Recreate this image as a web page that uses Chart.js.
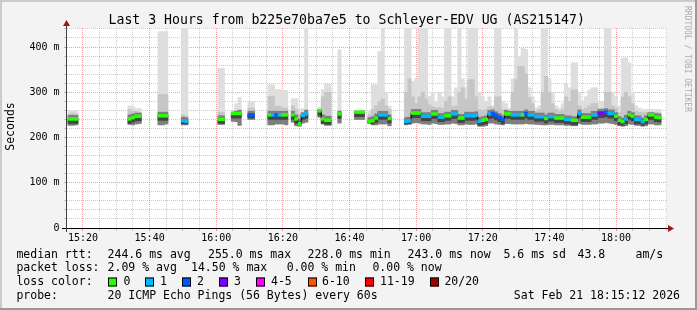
<!DOCTYPE html>
<html>
<head>
<meta charset="utf-8">
<title>SmokePing</title>
<script src="https://cdn.jsdelivr.net/npm/chart.js@4/dist/chart.umd.min.js"></script>
<style>
html, body { margin:0; padding:0; background:#f3f3f3; overflow:hidden; }
canvas { display:block; }
</style>
</head>
<body>
<canvas id="chart" width="697" height="310"></canvas>
<script>
// ---------------- data (minutes since 15:00) ----------------
const minutes = [
  16,17,18, 34,35,36,37, 43,44,45, 50,51, 61,62, 65,66,67, 70,71,
  76,77,78,79,80,81, 83,84,85,86,87, 91,92,93,94, 97, 102,103,104,
  106,107,108,109,110,111,112,
  117,118,119,120,121,122,123,124,125,126,
  127,128,129,130,131,132,133,134,135,136,
  137,138,139,140,141,142,143,144,145,146,
  147,148,149,150,151,152,153,154,155,156,
  157,158,159,160,161,162,163,164,165,166,
  167,168,169,170,171,172,173,174,175,176,
  177,178,179,180,181,182,183,184,185,186,
  187,188,189,190,191,192,193
];
// median rtt (ms)
const median = [
  241,241,241, 241,244,247,247, 248,248,248, 237,236, 240,240, 253,253,253, 250,250,
  250,250,250,250,250,250, 250,241,230,249,252, 259,241,238,238, 252, 256,256,256,
  236,237,243,250,250,250,242,
  236,237,254,254,254,247,247,247,252,252,
  245,245,248,248,252,252,243,243,248,248,
  248,249,236,238,240,252,253,249,245,240,
  252,252,250,250,250,250,253,250,250,246,
  246,246,242,246,246,243,243,243,240,240,
  238,238,253,245,245,245,250,250,254,254,
  256,253,253,247,238,235,241,250,247,240,
  240,235,240,250,250,245,244
];
// lost pings out of 20
const loss = [
  0,0,0, 0,0,0,0, 0,0,0, 1,1, 0,0, 0,0,0, 2,2,
  0,1,2,1,0,0, 0,0,0,1,1, 0,0,0,0, 0, 0,0,0,
  0,0,0,1,1,1,0,
  1,1,0,0,0,1,1,1,0,0,
  1,1,0,0,1,1,0,0,1,1,
  1,1,1,0,0,1,2,2,2,2,
  0,0,1,1,1,0,2,1,1,1,
  1,1,0,1,1,0,0,0,1,1,
  0,0,1,0,0,0,1,1,3,3,
  2,1,1,0,0,0,1,0,0,1,
  1,1,0,0,0,0,0
];
// slowest ping (ms)
const pingMax = [
  259,259,258, 270,268,264,264, 434,434,434, 480,480, 353,353, 258,275,289, 280,280,
  317,317,306,306,304,304, 286,286,264,264,480, 267,306,318,318, 394, 260,260,260,
  258,317,317,390,480,300,270,
  480,480,324,330,480,480,480,291,300,280,
  300,290,480,480,290,310,480,330,310,480,
  480,480,300,290,280,290,270,480,480,280,
  275,265,330,480,380,398,395,310,290,265,
  270,480,480,330,300,270,265,275,320,310,
  365,365,300,280,290,305,310,310,280,280,
  480,480,300,290,270,376,376,365,300,270,
  265,262,262,262,262,262,262
];
// upper outer ping band (ms)
const pingHigh = [
  252,254,252, 262,258,258,255, 295,295,295, 250,248, 256,256, 256,260,262, 265,265,
  291,291,269,269,265,265, 270,262,252,255,262, 262,290,300,300, 260, 258,258,258,
  250,262,270,280,285,270,262,
  300,330,290,275,290,300,285,272,268,265,
  266,264,280,290,268,270,300,310,285,328,
  328,290,262,260,262,268,266,290,290,262,
  262,260,300,328,357,357,340,288,275,258,
  262,300,335,300,275,262,258,262,290,280,
  305,305,270,262,265,270,275,275,265,265,
  300,300,270,265,255,290,300,290,275,258,
  256,255,255,256,256,255,255
];
// upper inner ping band (ms)
const pingUpper = [
  249,249,249, 250,252,254,254, 256,256,256, 245,244, 248,248, 256,258,260, 258,258,
  258,258,258,258,258,258, 258,250,240,255,260, 262,250,247,247, 258, 258,258,258,
  244,246,252,258,258,258,250,
  244,245,262,262,262,255,255,255,260,260,
  253,253,256,256,260,260,251,251,256,256,
  256,257,244,246,248,260,261,257,253,248,
  260,258,258,258,258,258,261,258,258,254,
  254,254,250,254,254,251,251,251,248,248,
  246,246,261,253,253,253,258,258,262,262,
  264,261,261,255,246,243,249,258,255,248,
  248,243,248,255,255,253,252
];
// lower inner ping band (ms)
const pingLower = [
  231,231,231, 231,234,237,237, 238,238,238, 230,230, 231,231, 243,243,243, 243,243,
  240,240,240,240,240,240, 240,231,228,239,242, 249,231,229,229, 242, 246,246,246,
  233,230,233,240,240,240,232,
  230,231,244,244,244,237,237,237,242,242,
  235,235,238,238,242,242,233,233,238,238,
  238,239,227,228,230,242,243,239,235,230,
  242,242,240,240,240,240,243,240,240,236,
  236,236,232,236,236,233,233,233,230,230,
  228,228,243,235,235,235,240,240,244,244,
  246,243,243,237,228,227,231,240,237,230,
  230,227,230,240,240,235,234
];
// fastest ping (ms)
const pingMin = [
  227,227,228, 229,228,230,231, 228,228,230, 228,228, 229,229, 236,235,227, 240,240,
  228,228,230,230,230,228, 234,226,225,232,234, 245,230,227,227, 232, 240,240,240,
  231,228,228,230,230,230,226,
  228,229,232,233,232,230,230,229,232,231,
  229,229,230,230,232,231,228,228,230,229,
  229,230,225,225,226,232,232,230,229,228,
  231,231,230,230,230,230,231,230,230,229,
  229,228,228,229,229,228,228,228,227,227,
  226,226,231,229,229,229,230,230,232,232,
  233,232,231,229,226,225,226,230,229,227,
  227,225,226,230,230,228,228
];

const xTickMinutes = [20,40,60,80,100,120,140,160,180];
const xTickLabels  = ['15:20','15:40','16:00','16:20','16:40','17:00','17:20','17:40','18:00'];
const yTickValues  = [0,100,200,300,400];
const yTickLabels  = ['0','100 m','200 m','300 m','400 m'];

const lossLevels = [0,1,2,3,5,10,19,20];
const lossLabels = ['0','1','2','3','4-5','6-10','11-19','20/20'];
const lossColors = ['#26ff00','#00b8ff','#0059ff','#7e00ff','#ff00ff','#ff5500','#ff0000','#a10000'];

const title = 'Last 3 Hours from b225e70ba7e5 to Schleyer-EDV UG (AS215147)';
const statRows = [
  [[16.4,'median rtt:'],[107.6,'244.6 ms avg'],[208,'255.0 ms max'],[307.6,'228.0 ms min'],[407.6,'243.0 ms now'],[503.5,'5.6 ms sd'],[577.5,'43.8'],[635.5,'am/s']],
  [[16.4,'packet loss:'],[107.6,'2.09 % avg'],[191,'14.50 % max'],[286.7,'0.00 % min'],[372.4,'0.00 % now']]
];
const probeText = '20 ICMP Echo Pings (56 Bytes) every 60s';
const dateText = 'Sat Feb 21 18:15:12 2026';

// ---------------- styling ----------------
const MONO = "'DejaVu Sans Mono', monospace";
const GRID_MINOR = 'rgba(128,128,128,0.40)';
const GRID_MAJOR = 'rgba(224,70,70,0.50)';
const MEDIAN_HALF = 3.1; // half of the ~3px median stroke, in ms

function lossColor(l) {
  for (let i = 0; i < lossLevels.length; i++) if (l <= lossLevels[i]) return lossColors[i];
  return lossColors[lossColors.length - 1];
}
function band(lo, hi) {
  return minutes.map((m, i) => ({ x: m, y: [lo[i], hi[i]] }));
}
const medianBars = minutes.map((m, i) => ({ x: m, y: [median[i] - MEDIAN_HALF, median[i] + MEDIAN_HALF] }));
const medianLine = [];
minutes.forEach((m, i) => {
  if (i > 0 && m - minutes[i - 1] > 1) medianLine.push({ x: minutes[i - 1] + 0.5, y: null });
  medianLine.push({ x: m, y: median[i] });
});

const barBase = { type: 'bar', grouped: false, barPercentage: 1, categoryPercentage: 1, borderWidth: 0 };

const decor = {
  id: 'decor',
  beforeDraw(chart) {
    const { ctx, chartArea: a, width: W, height: H } = chart;
    ctx.save();
    ctx.fillStyle = '#f3f3f3'; ctx.fillRect(0, 0, W, H);
    ctx.fillStyle = '#cbcbcb'; ctx.fillRect(0, 0, W, 2); ctx.fillRect(0, 0, 2, H);
    ctx.fillStyle = '#999999'; ctx.fillRect(0, H - 2, W, 2); ctx.fillRect(W - 2, 0, 2, H);
    ctx.fillStyle = '#ffffff'; ctx.fillRect(a.left, a.top, a.right - a.left, a.bottom - a.top);
    ctx.restore();
  },
  afterDraw(chart) {
    const { ctx, chartArea: a } = chart;
    ctx.save();
    // axes
    ctx.lineWidth = 1;
    ctx.strokeStyle = '#000';
    ctx.beginPath(); ctx.moveTo(a.left - 5, a.bottom + 0.5); ctx.lineTo(a.right + 2, a.bottom + 0.5); ctx.stroke();
    ctx.strokeStyle = '#404040';
    ctx.beginPath(); ctx.moveTo(a.left - 0.5, a.bottom + 4); ctx.lineTo(a.left - 0.5, a.top - 3); ctx.stroke();
    ctx.fillStyle = '#a01414';
    ctx.beginPath(); ctx.moveTo(a.right + 1, a.bottom - 3); ctx.lineTo(a.right + 7, a.bottom + 0.5); ctx.lineTo(a.right + 1, a.bottom + 4); ctx.closePath(); ctx.fill();
    ctx.beginPath(); ctx.moveTo(a.left - 4, a.top - 2); ctx.lineTo(a.left - 0.5, a.top - 8); ctx.lineTo(a.left + 3, a.top - 2); ctx.closePath(); ctx.fill();

    // title
    ctx.fillStyle = '#000';
    ctx.font = '13.2px ' + MONO;
    ctx.textAlign = 'center'; ctx.textBaseline = 'alphabetic';
    ctx.fillText(title, 346.7, 24);

    // y title
    ctx.font = '11.5px ' + MONO;
    ctx.save();
    ctx.translate(11, 126.5); ctx.rotate(-Math.PI / 2);
    ctx.textAlign = 'center'; ctx.textBaseline = 'middle';
    ctx.fillText('Seconds', 0, 0);
    ctx.restore();

    // watermark
    ctx.save();
    ctx.fillStyle = '#aaaaaa';
    ctx.font = '8px ' + MONO;
    ctx.translate(687, 59); ctx.rotate(Math.PI / 2);
    ctx.textAlign = 'center'; ctx.textBaseline = 'middle';
    ctx.fillText('RRDTOOL / TOBI OETIKER', 0, 0);
    ctx.restore();

    // legend
    ctx.fillStyle = '#000';
    ctx.font = '11.5px ' + MONO;
    ctx.textAlign = 'left'; ctx.textBaseline = 'middle';
    const rowY = [255, 268.5, 282, 296];
    statRows.forEach((row, r) => row.forEach(([x, t]) => ctx.fillText(t, x, rowY[r])));
    ctx.fillText('loss color:', 16.4, rowY[2]);
    const boxX = [108, 145, 182, 219, 256, 308, 365, 430];
    const labX = [123.6, 160, 196.9, 234, 271, 322, 380, 444.4];
    lossLabels.forEach((lab, i) => {
      ctx.fillStyle = lossColors[i];
      ctx.fillRect(boxX[i], rowY[2] - 4.5, 9, 9);
      ctx.strokeStyle = '#000';
      ctx.strokeRect(boxX[i] + 0.5, rowY[2] - 4, 8, 8);
      ctx.fillStyle = '#000';
      ctx.fillText(lab, labX[i], rowY[2]);
    });
    ctx.fillText('probe:', 16.4, rowY[3]);
    ctx.fillText(probeText, 107.6, rowY[3]);
    ctx.textAlign = 'right';
    ctx.fillText(dateText, 680, rowY[3]);
    ctx.restore();
  }
};

Chart.defaults.font.family = MONO;

new Chart(document.getElementById('chart'), {
  type: 'bar',
  data: {
    datasets: [
      Object.assign({}, barBase, { label: 'median', data: medianBars, backgroundColor: loss.map(lossColor), order: 1 }),
      { type: 'line', label: 'median step', data: medianLine, borderColor: '#000', borderWidth: 1, pointRadius: 0, stepped: 'middle', spanGaps: false, fill: false, order: 2 },
      Object.assign({}, barBase, { label: 'core', data: band(pingLower, median), backgroundColor: '#454545', order: 3 }),
      Object.assign({}, barBase, { label: 'inner', data: band(pingMin, pingUpper), backgroundColor: '#7e7e7e', order: 4 }),
      Object.assign({}, barBase, { label: 'outer', data: band(pingMin, pingHigh), backgroundColor: '#c6c6c6', order: 5 }),
      Object.assign({}, barBase, { label: 'max', data: band(pingMin, pingMax), backgroundColor: '#dedede', order: 6 })
    ]
  },
  options: {
    responsive: false,
    animation: false,
    devicePixelRatio: 1,
    events: [],
    layout: { padding: { left: 0, right: 30, top: 28, bottom: 0 } },
    plugins: { legend: { display: false }, tooltip: { enabled: false }, title: { display: false } },
    scales: {
      x: {
        type: 'linear', min: 15.2, max: 195.3, offset: false, z: 1,
        afterFit: s => { s.height = 82; },
        grid: {
          offset: false, lineWidth: 1, drawTicks: true, tickLength: 3, tickWidth: 1,
          color: c => (c.tick && c.tick.value % 20 === 0) ? GRID_MAJOR : GRID_MINOR,
          tickColor: c => (c.tick && c.tick.value % 20 === 0) ? GRID_MAJOR : GRID_MINOR
        },
        border: { display: false, dash: [1, 1] },
        ticks: {
          stepSize: 5, includeBounds: false, autoSkip: false, maxRotation: 0, minRotation: 0,
          padding: 1, color: '#000', font: { family: MONO, size: 10 },
          callback: v => { const i = xTickMinutes.indexOf(v); return i >= 0 ? xTickLabels[i] : ''; }
        }
      },
      y: {
        type: 'linear', min: 0, max: 442, z: 1,
        afterFit: s => { s.width = 67; },
        grid: {
          lineWidth: 1, drawTicks: true, tickLength: 3, tickWidth: 1,
          color: c => (c.tick && c.tick.value % 100 === 0) ? GRID_MAJOR : GRID_MINOR,
          tickColor: c => (c.tick && c.tick.value % 100 === 0) ? GRID_MAJOR : GRID_MINOR
        },
        border: { display: false, dash: [1, 1] },
        ticks: {
          stepSize: 20, includeBounds: false, autoSkip: false,
          padding: 4.5, color: '#000', font: { family: MONO, size: 10 },
          callback: v => { const i = yTickValues.indexOf(v); return i >= 0 ? yTickLabels[i] : ''; }
        }
      }
    }
  },
  plugins: [decor]
});
</script>
</body>
</html>
